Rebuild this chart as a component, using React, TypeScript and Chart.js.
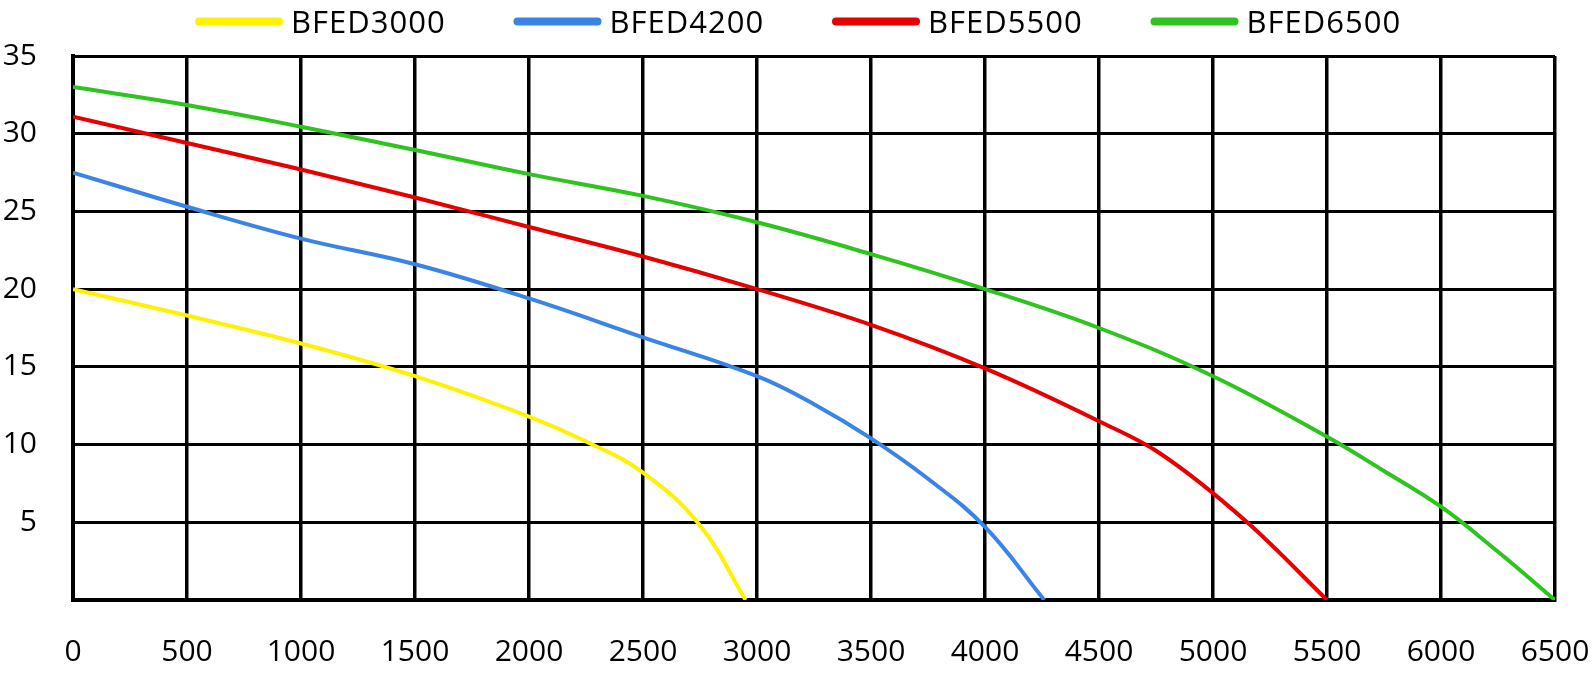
import React, { useEffect, useRef } from 'react';
import { Chart, registerables } from 'chart.js';

Chart.register(...registerables);

// series names and colours
const seriesNames = ['BFED3000', 'BFED4200', 'BFED5500', 'BFED6500'];
const seriesColors = ['#FFF200', '#3A84E8', '#E60000', '#2DC41E'];

// flow (x) and head (y)
const flow3000 = [0, 500, 1000, 1500, 2000, 2250, 2500, 2750, 2950];
const head3000 = [20, 18.3, 16.5, 14.4, 11.8, 10.2, 8.2, 4.8, 0];

const flow4200 = [0, 500, 1000, 1500, 2000, 2500, 3000, 3250, 3500, 3750, 4000, 4260];
const head4200 = [27.5, 25.3, 23.25, 21.6, 19.4, 16.9, 14.4, 12.6, 10.4, 7.8, 4.7, 0];

const flow5500 = [0, 500, 1000, 1500, 2000, 2500, 3000, 3500, 4000, 4500, 4750, 5150, 5500];
const head5500 = [31.1, 29.4, 27.7, 25.9, 24.0, 22.1, 20.0, 17.7, 14.9, 11.5, 9.6, 5.0, 0];

const flow6500 = [0, 500, 1000, 1500, 2000, 2500, 3000, 3500, 4000, 4500, 5000, 5500, 5750, 6000, 6250, 6500];
const head6500 = [33.0, 31.85, 30.45, 28.95, 27.4, 26.0, 24.3, 22.25, 20.0, 17.5, 14.4, 10.5, 8.3, 6.0, 3.1, 0];

const flows = [flow3000, flow4200, flow5500, flow6500];
const heads = [head3000, head4200, head5500, head6500];

// axis ranges
const xMax = 6500;
const xStep = 500;
const yMax = 35;
const yStep = 5;

const FONT = "'Open Sans', sans-serif";

// legend drawn as thick rounded lines with the label after them
const lineLegend = {
    id: 'lineLegend',
    afterDraw(chart: Chart) {
        const { ctx } = chart;
        ctx.save();
        ctx.font = `31px ${FONT}`;
        (ctx as any).letterSpacing = '1px';
        ctx.textBaseline = 'alphabetic';
        chart.data.datasets.forEach((ds, i) => {
            const x = 195 + i * 318.5;
            const y = 21.5;
            ctx.strokeStyle = ds.borderColor as string;
            ctx.lineWidth = 8;
            ctx.lineCap = 'round';
            ctx.beginPath();
            ctx.moveTo(x + 4, y);
            ctx.lineTo(x + 84, y);
            ctx.stroke();
            ctx.fillStyle = '#000';
            ctx.fillText(ds.label as string, x + 96, 32.5);
        });
        ctx.restore();
    },
};

function PumpChart() {
    const chartRef = useRef<HTMLCanvasElement | null>(null);
    const chartInstance = useRef<Chart | null>(null);

    useEffect(() => {
        document.body.style.margin = '0';
        if (!chartRef.current) return;
        if (chartInstance.current) chartInstance.current.destroy();

        chartInstance.current = new Chart(chartRef.current, {
            type: 'line',
            data: {
                datasets: seriesNames.map((name, i) => ({
                    label: name,
                    data: flows[i].map((f, j) => ({ x: f, y: heads[i][j] })),
                    borderColor: seriesColors[i],
                    backgroundColor: seriesColors[i],
                    borderWidth: 4,
                    pointRadius: 0,
                    // the 5500 curve keeps its corners, the others are smooth
                    cubicInterpolationMode: (i === 2 ? 'monotone' : 'default') as 'monotone' | 'default',
                    tension: 0.4,
                    fill: false,
                })),
            },
            options: {
                animation: false,
                responsive: true,
                maintainAspectRatio: false,
                layout: { padding: { top: 56, right: 39, bottom: 0, left: 0 } },
                plugins: {
                    legend: { display: false },
                    tooltip: { enabled: false },
                },
                scales: {
                    x: {
                        type: 'linear',
                        min: 0,
                        max: xMax,
                        grid: { color: '#000', lineWidth: 3.5, drawTicks: false },
                        border: { color: '#000', width: 4 },
                        ticks: {
                            stepSize: xStep,
                            autoSkip: false,
                            maxRotation: 0,
                            padding: 34,
                            color: '#000',
                            font: { family: FONT, size: 30 },
                            callback: (v) => String(v),
                        },
                        afterFit: (scale) => {
                            scale.height = 74;
                            scale.paddingLeft = 0;
                            scale.paddingRight = 0;
                        },
                    },
                    y: {
                        min: 0,
                        max: yMax,
                        grid: { color: '#000', lineWidth: 3, drawTicks: false },
                        border: { color: '#000', width: 4 },
                        ticks: {
                            stepSize: yStep,
                            padding: 36,
                            color: '#000',
                            font: { family: FONT, size: 30 },
                            callback: (v) => (Number(v) === 0 ? '' : String(v)),
                        },
                        afterFit: (scale) => {
                            scale.width = 73;
                            scale.paddingTop = 0;
                            scale.paddingBottom = 0;
                        },
                    },
                },
            },
            plugins: [lineLegend],
        });

        return () => {
            if (chartInstance.current) {
                chartInstance.current.destroy();
                chartInstance.current = null;
            }
        };
    }, []);

    return (
        <div style={{ position: 'relative', width: 1594, height: 674 }}>
            <canvas ref={chartRef} />
        </div>
    );
}

export default function App() {
    return <PumpChart />;
}
